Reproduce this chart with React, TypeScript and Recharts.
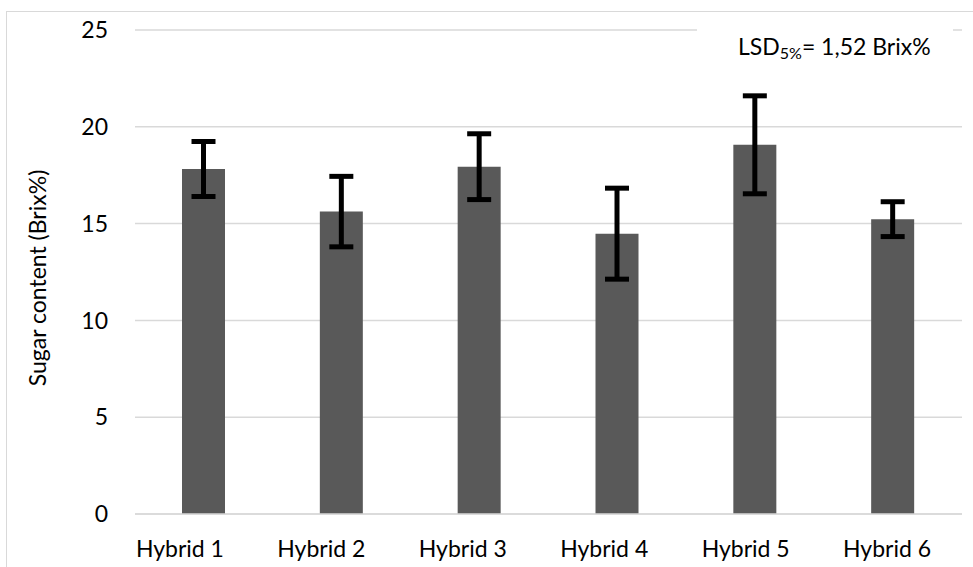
import { Bar, BarChart, CartesianGrid, Customized, ErrorBar, XAxis, YAxis } from "recharts";

const hybrids = ["Hybrid 1", "Hybrid 2", "Hybrid 3", "Hybrid 4", "Hybrid 5", "Hybrid 6"];
const sugar = [17.82, 15.62, 17.94, 14.48, 19.07, 15.23];
const sugarErr = [1.42, 1.82, 1.7, 2.35, 2.53, 0.9];
const yTicks = [0, 5, 10, 15, 20, 25];

const FONT = "Lato, 'Open Sans', sans-serif";
const FS = 23;

const data = hybrids.map((name, i) => ({ name, sugar: sugar[i], err: sugarErr[i] }));

// Category labels in the original sit slightly left of their bars, drifting less to the right.
function HybridTick(props: any) {
  const { x, y, payload, index } = props;
  const shift = -24 + index * 3.6;
  return (
    <text x={x + shift} y={y} dy="0.71em" textAnchor="middle" fill="#000" fontSize={FS} fontFamily={FONT}>
      {payload.value}
    </text>
  );
}

// Overlay: y-axis title and the LSD note that sits on a white box over the top gridline.
function Annotations() {
  return (
    <g fontFamily={FONT} fill="#000">
      <text x={46} y={278} fontSize={FS} textAnchor="middle" transform="rotate(-90 46 278)">
        Sugar content (Brix%)
      </text>
      <rect x={697} y={18} width={256} height={50} fill="#fff" />
      <text x={738} y={55} fontSize={FS}>
        LSD
        <tspan fontSize={16} dy={4}>5%</tspan>
        <tspan dy={-4}>= 1,52 Brix%</tspan>
      </text>
    </g>
  );
}

export default function App() {
  return (
    <div style={{ position: "absolute", left: 0, top: 0, width: 973, height: 567, overflow: "hidden", background: "#fff" }}>
      <div
        style={{
          position: "absolute",
          left: 6,
          top: 11,
          width: 1000,
          height: 600,
          borderTop: "1px solid #d9d9d9",
          borderLeft: "1px solid #d9d9d9",
        }}
      />
      <div style={{ position: "absolute", left: 0, top: 0 }}>
        <BarChart
          width={973}
          height={567}
          data={data}
          margin={{ top: 30, right: 11, bottom: 13, left: 75 }}
          barCategoryGap={0}
        >
          <CartesianGrid vertical={false} stroke="#d9d9d9" strokeWidth={1.5} />
          <XAxis
            dataKey="name"
            height={40}
            axisLine={{ stroke: "#d9d9d9", strokeWidth: 1.5 }}
            tickLine={false}
            tickSize={0}
            tickMargin={27}
            tick={<HybridTick />}
            interval={0}
          />
          <YAxis
            width={60}
            domain={[0, 25]}
            ticks={yTicks}
            axisLine={false}
            tickLine={false}
            tickSize={0}
            tickMargin={27}
            tick={{ fill: "#000", fontSize: FS, fontFamily: FONT }}
          />
          <Bar dataKey="sugar" fill="#595959" barSize={43} isAnimationActive={false}>
            <ErrorBar dataKey="err" direction="y" width={12} stroke="#000" strokeWidth={5} isAnimationActive={false} />
          </Bar>
          <Customized component={Annotations} />
        </BarChart>
      </div>
    </div>
  );
}
